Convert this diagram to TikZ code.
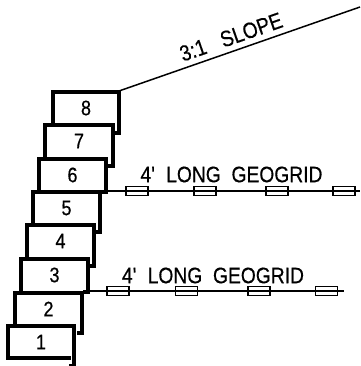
\documentclass[tikz,border=0pt]{standalone}
\usepackage{fontspec}
\setmainfont[FakeStretch=0.86,FakeBold=0.5]{Liberation Sans}
\usepackage{tikz}

\tikzset{
  blockline/.style={line width=3.4pt, line join=miter},
  blocknum/.style={font=\fontsize{21}{21}\selectfont, inner sep=0pt},
  gridlabel/.style={font=\fontsize{22.4}{22.4}\selectfont, inner sep=0pt},
  gridtab/.style={draw, line width=1.3pt, minimum width=22pt, minimum height=8.5pt, inner sep=0pt},
  gridline/.style={line width=1.4pt}
}

\begin{document}
\begin{tikzpicture}[x=1pt,y=-1pt]
    \useasboundingbox (0,0) rectangle (360,366);
    % blocks, bottom one first
    \foreach \l/\t/\r/\b/\n in {8/326/74/366/1,15/293/82/333/2,21/259/88/292/3,27/225/94/266/4,33/192/100/232/5,39/159/106/192/6,45/125/113/166/7,53/92/119/133/8}{
        \draw[blockline] (\l,\t+32) -- (\l,\t) -- (\r,\t) -- (\r,\b) -- (\r-5,\b);
        \node[blocknum] (num\n) at ({(\l+\r)/2},\t+16) {\n};
    }
    \draw[blockline] (8,326) -- (8,358) -- (71,358);
    % slope
    \coordinate (slopeA) at (119,91);
    \coordinate (slopeB) at (360,7);
    \draw[line width=1.5pt] (slopeA) -- (slopeB);
    \node[gridlabel, rotate=19.2] (slope) at (231,37) {3:1\ \ \ SLOPE};
    % upper geogrid
    \coordinate (upA) at (106,191);
    \coordinate (upB) at (360,191);
    \foreach \x/\n in {137/1,205/2,277/3,344/4}
        \node[gridtab] (up\n) at (\x,191) {};
    \draw[gridline] (upA) -- (upB);
    \node[gridlabel] (uplabel) at (231.5,174.5) {4\textquotesingle\ \ LONG\ \ GEOGRID};
    % lower geogrid
    \coordinate (lowA) at (88,291);
    \coordinate (lowB) at (344,291);
    \foreach \x/\n in {118/1,186.5/2,259/3,326.5/4}
        \node[gridtab] (low\n) at (\x,291) {};
    \draw[gridline] (lowA) -- (lowB);
    \node[gridlabel] (lowlabel) at (213,275.5) {4\textquotesingle\ \ LONG\ \ GEOGRID};
\end{tikzpicture}
\end{document}
